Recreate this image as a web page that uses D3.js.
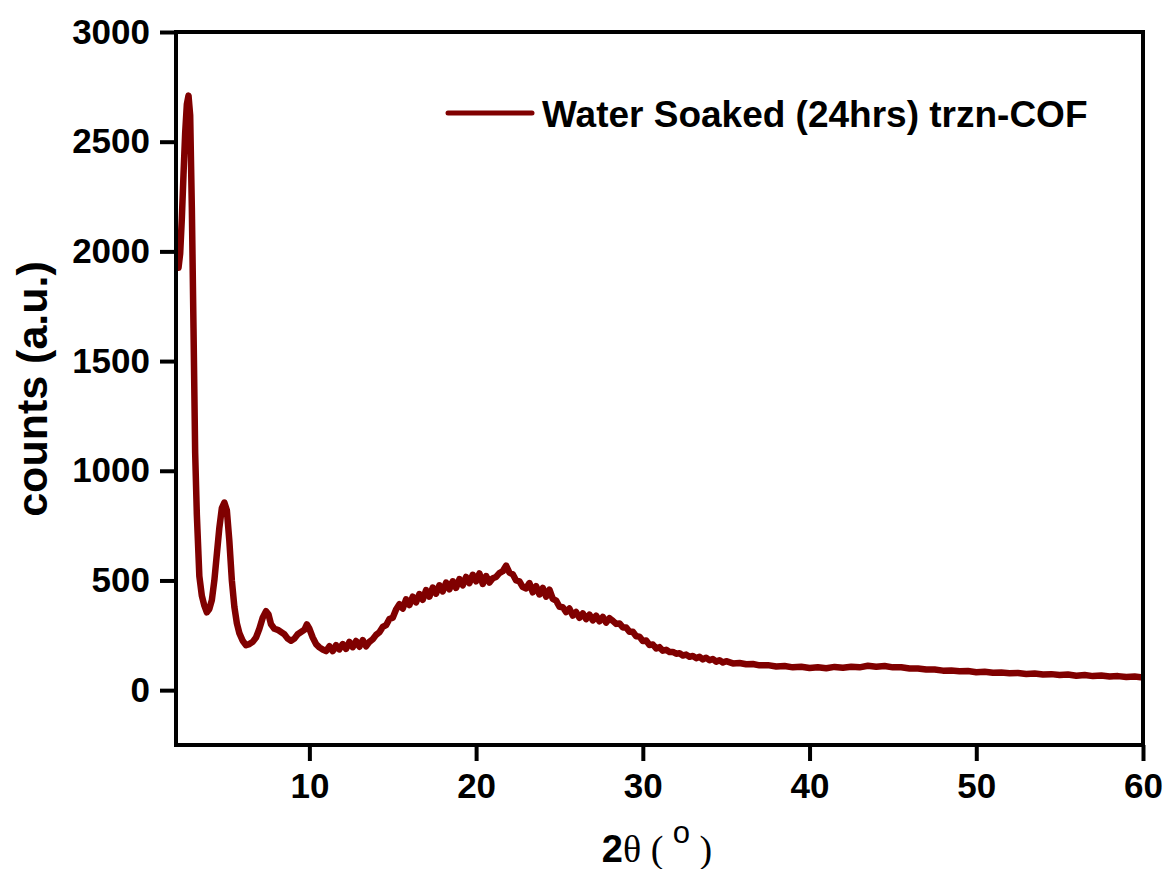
<!DOCTYPE html>
<html><head><meta charset="utf-8">
<script src="https://cdn.jsdelivr.net/npm/d3@7"></script>
<style>body{margin:0;background:#fff}</style>
</head><body>
<svg id="c" width="1168" height="869"></svg>
<script>
const twoTheta = [2.0,2.1,2.15,2.25,2.35,2.45,2.55,2.65,2.75,2.85,2.95,3.05,3.15,3.25,3.4,3.55,3.7,3.85,4.0,4.15,4.3,4.45,4.6,4.75,4.9,5.05,5.2,5.35,5.5,5.65,5.8,6.0,6.2,6.4,6.6,6.8,7.0,7.2,7.4,7.55,7.7,7.9,8.1,8.3,8.5,8.7,8.9,9.1,9.3,9.5,9.7,9.85,10.0,10.2,10.4,10.6,10.8,11.0,
11.2,11.4,11.6,11.8,12.0,12.2,12.4,12.6,12.8,13.0,13.2,13.4,13.6,13.8,14.0,14.2,14.4,14.6,14.8,15.0,15.2,15.4,15.6,15.8,16.0,16.2,16.4,16.6,16.8,17.0,17.2,17.4,17.6,17.8,18.0,18.2,18.4,18.6,18.8,19.0,19.2,19.4,19.6,19.8,20.0,20.2,20.4,20.6,20.8,21.0,21.2,21.4,21.6,21.8,22.0,22.2,22.4,22.6,22.8,23.0,23.2,23.4,23.6,23.8,24.0,24.2,24.4,24.6,24.8,25.0,25.2,25.4,25.6,25.8,26.0,26.2,26.4,26.6,26.8,27.0,27.2,27.4,27.6,27.8,28.0,28.2,28.4,28.6,28.8,29.0,29.2,29.4,29.6,29.8,30.0,30.2,30.4,30.6,30.8,31.0,31.2,31.4,31.6,31.8,32.0,32.2,32.4,32.6,32.8,33.0,33.2,33.4,33.6,33.8,34.0,34.2,34.4,34.6,34.8,35.0,35.4,35.8,36.2,36.6,37.0,37.5,38.0,38.5,39.0,39.5,40.0,40.5,41.0,41.5,42.0,42.5,43.0,43.5,44.0,44.5,45.0,45.5,46.0,46.5,47.0,47.5,48.0,48.5,49.0,49.5,50.0,50.5,51.0,51.5,52.0,52.5,53.0,53.5,54.0,54.5,55.0,55.5,56.0,56.5,57.0,57.5,58.0,58.5,59.0,59.5,60.0];
const counts = [2040,1950,1925,1990,2150,2350,2540,2670,2710,2620,2200,1650,1080,800,520,430,385,355,370,410,500,620,740,830,855,820,680,500,380,305,260,225,205,210,220,240,280,330,360,345,300,280,275,265,255,235,225,235,255,265,275,300,280,240,210,195,185,178,
200,178,205,186,210,188,220,196,224,198,228,200,220,232,252,264,288,296,324,330,368,392,372,414,388,426,400,438,412,456,426,468,440,478,450,490,460,496,466,506,478,516,488,526,496,532,484,520,490,510,516,534,542,568,536,528,500,496,470,464,488,446,474,436,466,426,458,416,408,380,378,356,372,340,356,330,350,324,344,318,340,314,334,308,328,316,302,304,286,286,266,266,246,244,224,226,206,208,190,196,180,184,174,174,166,168,158,162,152,156,146,152,140,148,136,142,130,136,126,132,122,124,118,119,113,114,108,110,104,107,101,104,100,106,102,107,104,111,107,110,104,104,99,99,94,94,89,90,86,87,82,84,79,80,77,78,74,76,71,73,69,71,66,69,64,67,62,64,60,62,58,60];
const xTicks = [10,20,30,40,50,60];
const yTicks = [0,500,1000,1500,2000,2500,3000];
const seriesName = "Water Soaked (24hrs) trzn-COF";
const xDomain = [2, 60];
const yDomain = [-250, 3000];

const svg = d3.select("#c");
const L = 176, R = 1143, T = 32, B = 745;
const x = d3.scaleLinear().domain(xDomain).range([L, R]);
const y = d3.scaleLinear().domain(yDomain).range([B, T]);
const font = "'Liberation Sans', Arial, sans-serif";
const color = "#800000";

const data = twoTheta.map((t, i) => [t, counts[i]]);
svg.append("defs").append("clipPath").attr("id","clip").append("rect")
  .attr("x", L).attr("y", T).attr("width", R - L).attr("height", B - T);
svg.append("path").datum(data)
  .attr("clip-path","url(#clip)")
  .attr("fill","none").attr("stroke", color).attr("stroke-width", 6.5)
  .attr("stroke-linejoin","round").attr("stroke-linecap","round")
  .attr("d", d3.line().x(d => x(d[0])).y(d => y(d[1])));

const frame = svg.append("g").attr("stroke","#000").attr("stroke-width",4).attr("fill","none");
frame.append("rect").attr("x", L).attr("y", T).attr("width", R - L).attr("height", B - T);

const xAxis = svg.append("g").attr("transform", `translate(0,${B})`)
  .call(d3.axisBottom(x).tickValues(xTicks).tickSize(16).tickPadding(12).tickFormat(d3.format("d")));
const yAxis = svg.append("g").attr("transform", `translate(${L},0)`)
  .call(d3.axisLeft(y).tickValues(yTicks).tickSize(16).tickPadding(10).tickFormat(d3.format("d")));
[xAxis, yAxis].forEach(a => {
  a.select(".domain").remove();
  a.selectAll(".tick line").attr("stroke","#000").attr("stroke-width",4);
  a.selectAll(".tick text").attr("fill","#000").attr("font-family", font)
    .attr("font-weight","bold").attr("font-size", 35);
});

svg.append("line").attr("x1",448).attr("x2",532).attr("y1",113).attr("y2",113)
  .attr("stroke", color).attr("stroke-width",5).attr("stroke-linecap","round");
svg.append("text").attr("x",542).attr("y",127).attr("font-family", font)
  .attr("font-weight","bold").attr("font-size",37).attr("fill","#000").text(seriesName);

svg.append("text").attr("transform","translate(47,389) rotate(-90)")
  .attr("text-anchor","middle").attr("font-family", font).attr("font-weight","bold")
  .attr("font-size",43).attr("fill","#000").text("counts (a.u.)");

const xl = svg.append("text").attr("x",657).attr("y",862).attr("text-anchor","middle")
  .attr("font-size",38).attr("fill","#000");
xl.append("tspan").attr("font-family", font).attr("font-weight","bold").text("2");
xl.append("tspan").attr("font-family","'Liberation Serif', 'Times New Roman', serif").text("θ ( ");
xl.append("tspan").attr("font-family", font).attr("font-size",31).attr("dy",-19).text("o");
xl.append("tspan").attr("font-family","'Liberation Serif', 'Times New Roman', serif").attr("dy",19).text(" )");
</script>
</body></html>
